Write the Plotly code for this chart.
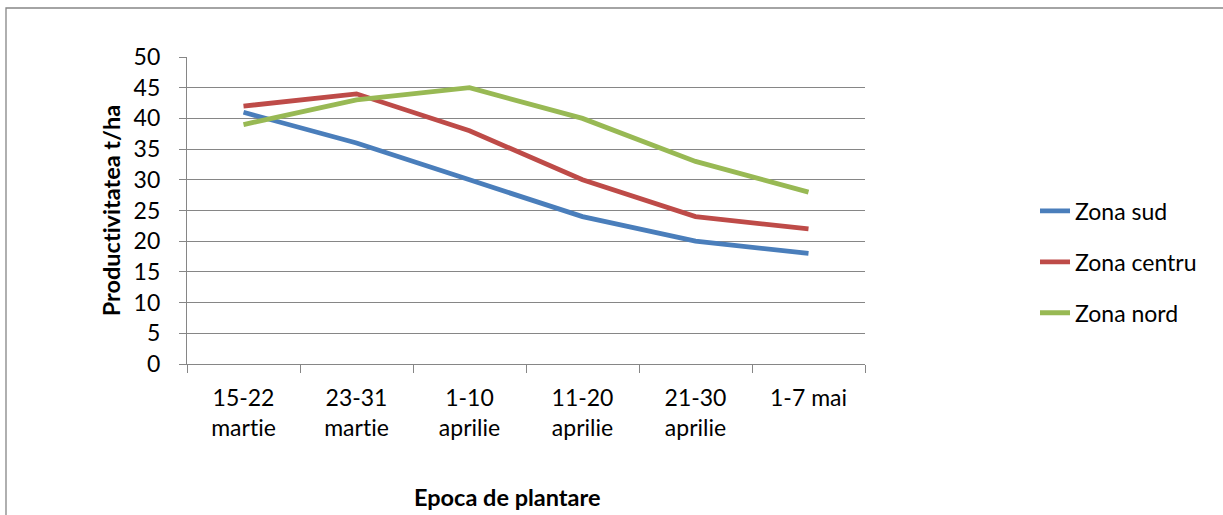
import plotly.graph_objects as go

categories = ["15-22<br>martie", "23-31<br>martie", "1-10<br>aprilie", "11-20<br>aprilie", "21-30<br>aprilie", "1-7 mai"]
zona_sud = [41, 36, 30, 24, 20, 18]
zona_centru = [42, 44, 38, 30, 24, 22]
zona_nord = [39, 43, 45, 40, 33, 28]
series_names = ["Zona sud", "Zona centru", "Zona nord"]
colors = ["#4A7EBB", "#BE4B48", "#98B954"]
y_ticks = list(range(0, 55, 5))

W, H = 1223, 515
L, R, T, B = 187, 865, 57, 364

fig = go.Figure()
for name, vals, col in zip(series_names, [zona_sud, zona_centru, zona_nord], colors):
    fig.add_trace(go.Scatter(x=categories, y=vals, name=name, mode="lines",
                             line=dict(color=col, width=4.8), legendgroup=name))

FONT = "Lato"
grid = "#868686"
fig.update_layout(
    width=W, height=H,
    margin=dict(l=L, r=W - R, t=T, b=H - B, autoexpand=False),
    paper_bgcolor="white", plot_bgcolor="white",
    font=dict(family=FONT, size=23, color="black"),
    showlegend=True,
    legend=dict(x=(1035 - L) / (R - L), y=(B - 262) / (B - T), xanchor="left", yanchor="middle",
                font=dict(size=23), tracegroupgap=18, bgcolor="rgba(0,0,0,0)"),
    xaxis=dict(type="category", tickson="boundaries", ticks="outside", ticklen=8,
               tickcolor=grid, showline=True, linecolor=grid, linewidth=1.3,
               showgrid=False, tickfont=dict(size=23), ticklabelstandoff=13,
               range=[-0.5, 5.5], fixedrange=True),
    yaxis=dict(range=[0, 50], tickvals=y_ticks, ticks="outside", ticklen=7,
               tickcolor=grid, showline=True, linecolor=grid, linewidth=1.3,
               showgrid=True, gridcolor=grid, gridwidth=1.3, zeroline=False,
               tickfont=dict(size=23), ticklabelstandoff=14),
    annotations=[
        dict(text="<b>Productivitatea t/ha</b>", xref="paper", yref="paper",
             x=(110 - L) / (R - L), y=0.5, textangle=-90, showarrow=False,
             xanchor="center", yanchor="middle", font=dict(size=23.5)),
        dict(text="<b>Epoca de plantare</b>", xref="paper", yref="paper",
             x=(507 - L) / (R - L), y=(B - 497) / (B - T), showarrow=False,
             xanchor="center", yanchor="middle", font=dict(size=23.5)),
    ],
    shapes=[
        dict(type="rect", xref="paper", yref="paper",
             x0=(6 - L) / (R - L), x1=(1240 - L) / (R - L),
             y0=(B - 540) / (B - T), y1=(B - 8) / (B - T),
             line=dict(color=grid, width=1.3), fillcolor="rgba(0,0,0,0)", layer="below"),
    ],
)

fig.write_html("out.html", config={"displayModeBar": False},
               post_script="document.body.style.margin='0';document.body.style.overflow='hidden';"
                           "var s=document.createElement('style');s.textContent='svg text{font-variant-ligatures:none;font-feature-settings:\"liga\" 0;}';document.head.appendChild(s);")
